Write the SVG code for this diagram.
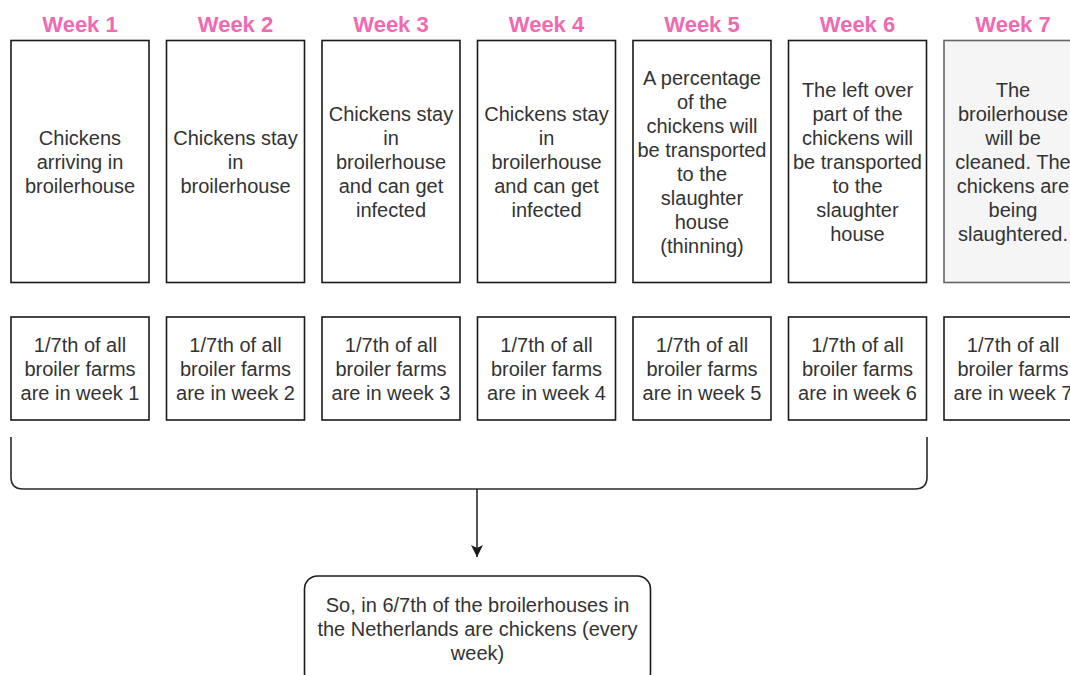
<svg xmlns="http://www.w3.org/2000/svg" width="1070" height="675" viewBox="0 0 1070 675">
  <style>
    .hdr { font-family: "Liberation Sans", Arial, sans-serif; font-size: 22px; font-weight: bold; fill: #f06ab2; text-anchor: middle; }
    .lbl { font-family: "Liberation Sans", Arial, sans-serif; font-size: 20px; fill: #333333; text-anchor: middle; }
    .box { fill: #ffffff; stroke: #1a1a1a; stroke-width: 1.6; }
    .box-grey { fill: #f5f5f5; stroke: #666666; stroke-width: 1.6; }
    .conn { fill: none; stroke: #2a2a2a; stroke-width: 1.6; }
  </style>
  <defs>
    <marker id="arrow" viewBox="0 0 12 12" refX="12" refY="6" markerWidth="12" markerHeight="12" markerUnits="userSpaceOnUse" orient="auto">
      <path d="M0,0 L12,6 L0,12 L3,6 Z" fill="#1a1a1a"/>
    </marker>
  </defs>
  <rect width="1070" height="675" fill="#ffffff"/>

  <!-- Week headers -->
  <g id="headers">
    <text class="hdr" x="80" y="32">Week 1</text>
    <text class="hdr" x="235.5" y="32">Week 2</text>
    <text class="hdr" x="391" y="32">Week 3</text>
    <text class="hdr" x="546.5" y="32">Week 4</text>
    <text class="hdr" x="702" y="32">Week 5</text>
    <text class="hdr" x="857.5" y="32">Week 6</text>
    <text class="hdr" x="1013" y="32">Week 7</text>
  </g>

  <!-- Weekly stage boxes -->
  <g id="stage1">
    <rect class="box" x="11" y="40.5" width="138" height="242"/>
    <text class="lbl"><tspan x="80" y="145">Chickens</tspan><tspan x="80" y="169">arriving in</tspan><tspan x="80" y="193">broilerhouse</tspan></text>
  </g>
  <g id="stage2">
    <rect class="box" x="166.5" y="40.5" width="138" height="242"/>
    <text class="lbl"><tspan x="235.5" y="145">Chickens stay</tspan><tspan x="235.5" y="169">in</tspan><tspan x="235.5" y="193">broilerhouse</tspan></text>
  </g>
  <g id="stage3">
    <rect class="box" x="322" y="40.5" width="138" height="242"/>
    <text class="lbl"><tspan x="391" y="121">Chickens stay</tspan><tspan x="391" y="145">in</tspan><tspan x="391" y="169">broilerhouse</tspan><tspan x="391" y="193">and can get</tspan><tspan x="391" y="217">infected</tspan></text>
  </g>
  <g id="stage4">
    <rect class="box" x="477.5" y="40.5" width="138" height="242"/>
    <text class="lbl"><tspan x="546.5" y="121">Chickens stay</tspan><tspan x="546.5" y="145">in</tspan><tspan x="546.5" y="169">broilerhouse</tspan><tspan x="546.5" y="193">and can get</tspan><tspan x="546.5" y="217">infected</tspan></text>
  </g>
  <g id="stage5">
    <rect class="box" x="633" y="40.5" width="138" height="242"/>
    <text class="lbl"><tspan x="702" y="85">A percentage</tspan><tspan x="702" y="109">of the</tspan><tspan x="702" y="133">chickens will</tspan><tspan x="702" y="157">be transported</tspan><tspan x="702" y="181">to the</tspan><tspan x="702" y="205">slaughter</tspan><tspan x="702" y="229">house</tspan><tspan x="702" y="253">(thinning)</tspan></text>
  </g>
  <g id="stage6">
    <rect class="box" x="788.5" y="40.5" width="138" height="242"/>
    <text class="lbl"><tspan x="857.5" y="97">The left over</tspan><tspan x="857.5" y="121">part of the</tspan><tspan x="857.5" y="145">chickens will</tspan><tspan x="857.5" y="169">be transported</tspan><tspan x="857.5" y="193">to the</tspan><tspan x="857.5" y="217">slaughter</tspan><tspan x="857.5" y="241">house</tspan></text>
  </g>
  <g id="stage7">
    <rect class="box-grey" x="944" y="40.5" width="138" height="242"/>
    <text class="lbl"><tspan x="1013" y="97">The</tspan><tspan x="1013" y="121">broilerhouse</tspan><tspan x="1013" y="145">will be</tspan><tspan x="1013" y="169">cleaned. The</tspan><tspan x="1013" y="193">chickens are</tspan><tspan x="1013" y="217">being</tspan><tspan x="1013" y="241">slaughtered.</tspan></text>
  </g>

  <!-- Share of farms per week -->
  <g id="share1">
    <rect class="box" x="11" y="317" width="138" height="103"/>
    <text class="lbl"><tspan x="80" y="352">1/7th of all</tspan><tspan x="80" y="376">broiler farms</tspan><tspan x="80" y="400">are in week 1</tspan></text>
  </g>
  <g id="share2">
    <rect class="box" x="166.5" y="317" width="138" height="103"/>
    <text class="lbl"><tspan x="235.5" y="352">1/7th of all</tspan><tspan x="235.5" y="376">broiler farms</tspan><tspan x="235.5" y="400">are in week 2</tspan></text>
  </g>
  <g id="share3">
    <rect class="box" x="322" y="317" width="138" height="103"/>
    <text class="lbl"><tspan x="391" y="352">1/7th of all</tspan><tspan x="391" y="376">broiler farms</tspan><tspan x="391" y="400">are in week 3</tspan></text>
  </g>
  <g id="share4">
    <rect class="box" x="477.5" y="317" width="138" height="103"/>
    <text class="lbl"><tspan x="546.5" y="352">1/7th of all</tspan><tspan x="546.5" y="376">broiler farms</tspan><tspan x="546.5" y="400">are in week 4</tspan></text>
  </g>
  <g id="share5">
    <rect class="box" x="633" y="317" width="138" height="103"/>
    <text class="lbl"><tspan x="702" y="352">1/7th of all</tspan><tspan x="702" y="376">broiler farms</tspan><tspan x="702" y="400">are in week 5</tspan></text>
  </g>
  <g id="share6">
    <rect class="box" x="788.5" y="317" width="138" height="103"/>
    <text class="lbl"><tspan x="857.5" y="352">1/7th of all</tspan><tspan x="857.5" y="376">broiler farms</tspan><tspan x="857.5" y="400">are in week 6</tspan></text>
  </g>
  <g id="share7">
    <rect class="box" x="944" y="317" width="138" height="103"/>
    <text class="lbl"><tspan x="1013" y="352">1/7th of all</tspan><tspan x="1013" y="376">broiler farms</tspan><tspan x="1013" y="400">are in week 7</tspan></text>
  </g>

  <!-- Bracket over weeks 1-6 and arrow to the summary -->
  <g id="connectors">
    <path class="conn" d="M11,437 V477 Q11,489 23,489 H915 Q927,489 927,477 V437"/>
    <path class="conn" d="M477,489 V557" marker-end="url(#arrow)"/>
  </g>

  <!-- Summary -->
  <g id="summary">
    <rect class="box" x="304.5" y="576" width="346" height="110" rx="13" ry="13"/>
    <text class="lbl"><tspan x="477.5" y="612">So, in 6/7th of the broilerhouses in</tspan><tspan x="477.5" y="636">the Netherlands are chickens (every</tspan><tspan x="477.5" y="660">week)</tspan></text>
  </g>
</svg>
